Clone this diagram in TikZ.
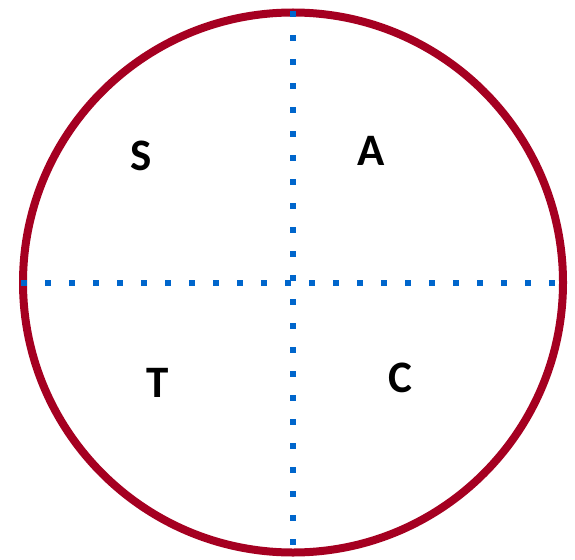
\documentclass[tikz,border=0pt]{standalone}
\usepackage{fontspec}
\setmainfont{Carlito}
\definecolor{ringred}{RGB}{165,0,33}
\definecolor{dotblue}{RGB}{0,102,204}
\begin{document}
\begin{tikzpicture}[x=1pt,y=-1pt,
  ring/.style={draw=ringred,line width=8pt},
  dotsq/.style={fill=dotblue},
  letter/.style={inner sep=0pt,font=\fontsize{45}{45}\selectfont\bfseries}]
\useasboundingbox[fill=white] (0,0) rectangle (575,559);
\draw[ring] (293,282.5) circle[radius=270];
\foreach \k in {1,...,23} {
  \fill[dotsq] ({24*\k-3},280) rectangle ++(6,6);
}
\foreach \k in {0,...,22} {
  \fill[dotsq] (290,{14+24*\k-3}) rectangle ++(6,6);
}
\node[letter] (s) at (141.5,156) {S};
\node[letter] (a) at (371,150.5) {A};
\node[letter] (t) at (157.5,382.5) {T};
\node[letter] (c) at (400,377.5) {C};
\end{tikzpicture}
\end{document}
